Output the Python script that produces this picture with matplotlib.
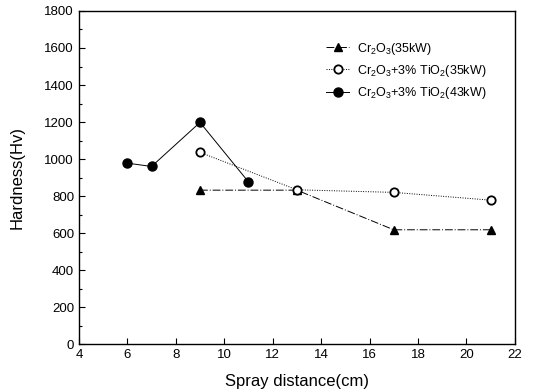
import matplotlib
matplotlib.use("Agg")
import matplotlib.pyplot as plt
from matplotlib.ticker import MultipleLocator

plt.rcParams["font.family"] = ["Liberation Sans", "DejaVu Sans"]
plt.rcParams["mathtext.fontset"] = "custom"
plt.rcParams["mathtext.rm"] = "Liberation Sans"
plt.rcParams["mathtext.it"] = "Liberation Sans"

# Cr2O3 (35kW)
x_cr = [9, 13, 17, 21]
y_cr = [832, 832, 618, 618]
# Cr2O3 + 3% TiO2 (35kW)
x_ti35 = [9, 13, 17, 21]
y_ti35 = [1036, 834, 820, 778]
# Cr2O3 + 3% TiO2 (43kW)
x_ti43 = [6, 7, 9, 11]
y_ti43 = [978, 960, 1198, 877]

labels = [
    r"Cr$_2$O$_3$(35kW)",
    r"Cr$_2$O$_3$+3% TiO$_2$(35kW)",
    r"Cr$_2$O$_3$+3% TiO$_2$(43kW)",
]

fig = plt.figure(figsize=(5.33, 3.92), dpi=100)
ax = fig.add_axes([0.148, 0.122, 0.818, 0.85])

ax.plot(x_cr, y_cr, color="black", lw=0.7, ls=(0, (8, 2, 1, 2)),
        marker="^", ms=6, mfc="black", mec="black", label=labels[0])
ax.plot(x_ti35, y_ti35, color="black", lw=0.7, ls=(0, (1, 1.5)),
        marker="o", ms=6, mfc="white", mec="black", mew=1.3, label=labels[1])
ax.plot(x_ti43, y_ti43, color="black", lw=0.7, ls="-",
        marker="o", ms=6.5, mfc="black", mec="black", label=labels[2])

ax.set_xlim(4, 22)
ax.set_ylim(0, 1800)
ax.xaxis.set_major_locator(MultipleLocator(2))
ax.yaxis.set_major_locator(MultipleLocator(200))
ax.yaxis.set_minor_locator(MultipleLocator(100))
ax.tick_params(direction="in", which="both", top=False, right=False,
               labelsize=9.5)
ax.tick_params(which="major", length=4, width=0.8)
ax.tick_params(which="minor", length=2, width=0.8)
for sp in ax.spines.values():
    sp.set_linewidth(1.0)

ax.set_xlabel("Spray distance(cm)", fontsize=12, labelpad=9)
ax.set_ylabel("Hardness(Hv)", fontsize=12, labelpad=14)

leg = ax.legend(loc="upper right", bbox_to_anchor=(0.96, 0.945), frameon=False,
                fontsize=9, handlelength=1.85, handletextpad=0.6,
                labelspacing=0.5)

fig.savefig("out.png", dpi=100)
